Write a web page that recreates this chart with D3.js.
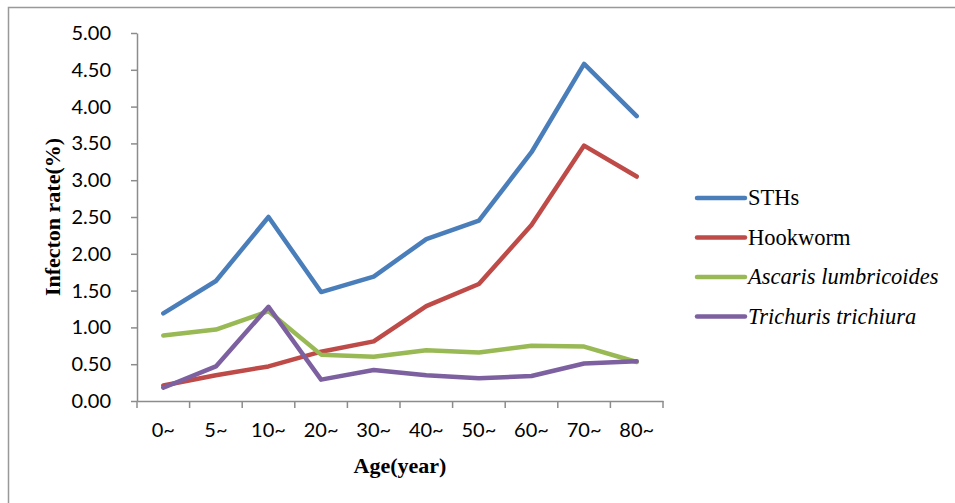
<!DOCTYPE html>
<html>
<head>
<meta charset="utf-8">
<script src="https://cdn.jsdelivr.net/npm/d3@7"></script>
<style>
    html, body { margin: 0; padding: 0; background: #fff; }
    #chart { width: 955px; height: 503px; }
    .axis path, .axis line { stroke: #8c8c8c; stroke-width: 1.5; }
    .axis .tick text { font-family: Lato, "Open Sans", sans-serif; font-size: 20px; fill: #000; }
    .title { font-family: "Liberation Serif", "Times New Roman", serif; font-weight: bold; font-size: 22px; }
    .legend text { font-family: "Liberation Serif", "Times New Roman", serif; font-size: 22.5px; }
    .series path { fill: none; stroke-width: 4.5; stroke-linejoin: round; stroke-linecap: round; }
</style>
</head>
<body>
<div id="chart"></div>
<script>
const ageGroups = ["0~", "5~", "10~", "20~", "30~", "40~", "50~", "60~", "70~", "80~"];
const yTicks = [0, 0.5, 1, 1.5, 2, 2.5, 3, 3.5, 4, 4.5, 5];

const sths = [1.19, 1.63, 2.50, 1.48, 1.69, 2.20, 2.45, 3.38, 4.58, 3.87];
const hookworm = [0.21, 0.35, 0.47, 0.67, 0.81, 1.29, 1.59, 2.39, 3.47, 3.05];
const ascaris = [0.89, 0.97, 1.22, 0.63, 0.60, 0.69, 0.66, 0.75, 0.74, 0.53];
const trichuris = [0.18, 0.47, 1.28, 0.29, 0.42, 0.35, 0.31, 0.34, 0.51, 0.54];

const seriesNames = ["STHs", "Hookworm", "Ascaris lumbricoides", "Trichuris trichiura"];
const seriesValues = [sths, hookworm, ascaris, trichuris];
const seriesColors = ["#4a7ebb", "#be4b48", "#98b954", "#7d60a0"];
const seriesItalic = [false, false, true, true];

(function () {
    "use strict";

    const width = 955;
    const height = 503;
    const plot = { left: 137, top: 33, right: 663, bottom: 401 };

    const svg = d3.select("#chart").append("svg")
        .attr("width", width)
        .attr("height", height);

    // outer frame, runs off the right and bottom edges like the source
    svg.append("rect")
        .attr("x", 8.5)
        .attr("y", 7.5)
        .attr("width", width)
        .attr("height", height)
        .attr("fill", "none")
        .attr("stroke", "#999")
        .attr("stroke-width", 1.5);

    const xScale = d3.scaleBand()
        .domain(ageGroups)
        .range([plot.left, plot.right]);

    const yScale = d3.scaleLinear()
        .domain([0, 5])
        .range([plot.bottom, plot.top]);

    const xAxis = d3.axisBottom(xScale)
        .tickSize(7)
        .tickSizeOuter(0);

    const xAxisGroup = svg.append("g")
        .attr("class", "axis x-axis")
        .attr("transform", `translate(0,${plot.bottom})`)
        .call(xAxis);

    // ticks sit on band edges, not centres
    const bw = xScale.bandwidth();
    xAxisGroup.selectAll(".tick line").remove();
    xAxisGroup.selectAll(".edge")
        .data(d3.range(ageGroups.length + 1))
        .enter()
        .append("line")
        .attr("class", "edge")
        .attr("x1", i => plot.left + i * bw)
        .attr("x2", i => plot.left + i * bw)
        .attr("y2", 7);
    xAxisGroup.selectAll(".tick text")
        .attr("y", 22)
        .attr("dy", "0.71em");

    const yAxis = d3.axisLeft(yScale)
        .tickValues(yTicks)
        .tickFormat(d3.format(".2f"))
        .tickSize(6)
        .tickSizeOuter(0);

    const yAxisGroup = svg.append("g")
        .attr("class", "axis y-axis")
        .attr("transform", `translate(${plot.left},0)`)
        .call(yAxis);

    yAxisGroup.selectAll(".tick text")
        .attr("x", -26);

    svg.append("text")
        .attr("class", "title")
        .attr("x", (plot.left + plot.right) / 2)
        .attr("y", 473)
        .attr("text-anchor", "middle")
        .text("Age(year)");

    const titleX = 52;
    const titleY = (plot.top + plot.bottom) / 2;
    svg.append("text")
        .attr("class", "title")
        .attr("x", titleX)
        .attr("y", titleY)
        .attr("dy", "0.35em")
        .attr("text-anchor", "middle")
        .attr("transform", `rotate(-90,${titleX},${titleY})`)
        .text("Infecton rate(%)");

    const line = d3.line()
        .x((d, i) => xScale(ageGroups[i]) + bw / 2)
        .y(d => yScale(d));

    const series = svg.append("g").attr("class", "series");
    seriesValues.forEach((values, i) => {
        series.append("path")
            .attr("d", line(values))
            .attr("stroke", seriesColors[i]);
    });

    const legend = svg.append("g")
        .attr("class", "legend")
        .attr("transform", "translate(697,198)");

    seriesNames.forEach((name, i) => {
        const row = legend.append("g")
            .attr("transform", `translate(0,${i * 39.5})`);
        row.append("line")
            .attr("x2", 48)
            .attr("stroke", seriesColors[i])
            .attr("stroke-width", 4.5)
            .attr("stroke-linecap", "round");
        row.append("text")
            .attr("x", 51)
            .attr("dy", "0.33em")
            .style("font-style", seriesItalic[i] ? "italic" : "normal")
            .text(name);
    });
}());
</script>
</body>
</html>
